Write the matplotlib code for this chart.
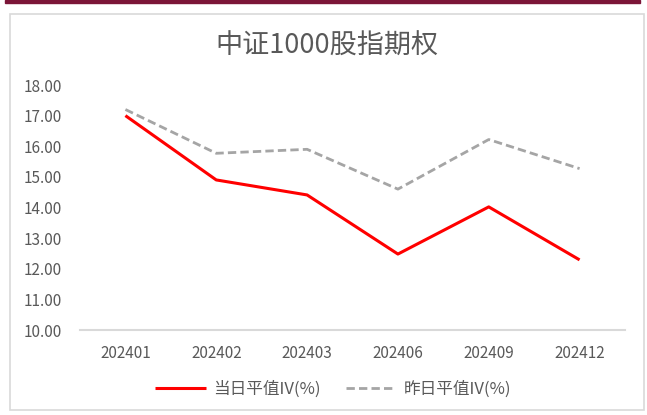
import numpy as np
import matplotlib
matplotlib.use("Agg")
import matplotlib.pyplot as plt
import matplotlib.patches as mplp

plt.rcParams['font.family'] = ['Noto Sans CJK SC', 'DejaVu Sans']

# data
months = ["202401", "202402", "202403", "202406", "202409", "202412"]
iv_today = [17.0, 14.9, 14.41, 12.48, 14.02, 12.29]
iv_yesterday = [17.2, 15.77, 15.9, 14.6, 16.22, 15.27]
yticks = [10, 11, 12, 13, 14, 15, 16, 17, 18]

W, H = 647, 415
fig = plt.figure(figsize=(W/100, H/100), dpi=100)

# outer decorations: dark red top bar and light chart border
fig.patches.append(mplp.Rectangle((5/W, 1 - 3/H), 635/W, 3/H,
                                  transform=fig.transFigure, color="#7B1538", zorder=-2))
fig.patches.append(mplp.Rectangle((10/W, 5/H), 634/W, 396/H, transform=fig.transFigure,
                                  facecolor="white", edgecolor="#d9d9d9", lw=1.2, zorder=-2))

ax = fig.add_axes([80/W, 85/H, 545/W, 245/H])
ax.patch.set_alpha(0)
x = np.arange(len(months))

ax.plot(x, iv_today, color="#FF0000", lw=2.2, label="当日平值IV(%)", solid_capstyle="butt")
ax.plot(x, iv_yesterday, color="#A5A5A5", lw=2.0, ls=(0, (3, 1.5)), label="昨日平值IV(%)")

ax.set_xlim(-0.5, len(months) - 0.5)
ax.set_ylim(10, 18)
ax.set_xticks(x, months)
ax.set_yticks(yticks, [f"{v:.2f}" for v in yticks])
ax.tick_params(length=0, labelsize=11, colors="#595959")
ax.tick_params(axis="x", pad=11)
ax.tick_params(axis="y", pad=13)
for s in ("top", "right", "left"):
    ax.spines[s].set_visible(False)
ax.spines["bottom"].set_color("#d9d9d9")
ax.spines["bottom"].set_linewidth(1.5)

fig.text(327/W, 1 - 46/H, "中证1000股指期权", ha="center", va="center",
         fontsize=19.5, color="#595959")

fig.legend(loc="center", bbox_to_anchor=(333/W, 1 - 389/H), ncol=2, frameon=False,
           fontsize=12, labelcolor="#595959", handlelength=3.05, columnspacing=1.5,
           handletextpad=0.42)

fig.savefig("out.png", dpi=100)
